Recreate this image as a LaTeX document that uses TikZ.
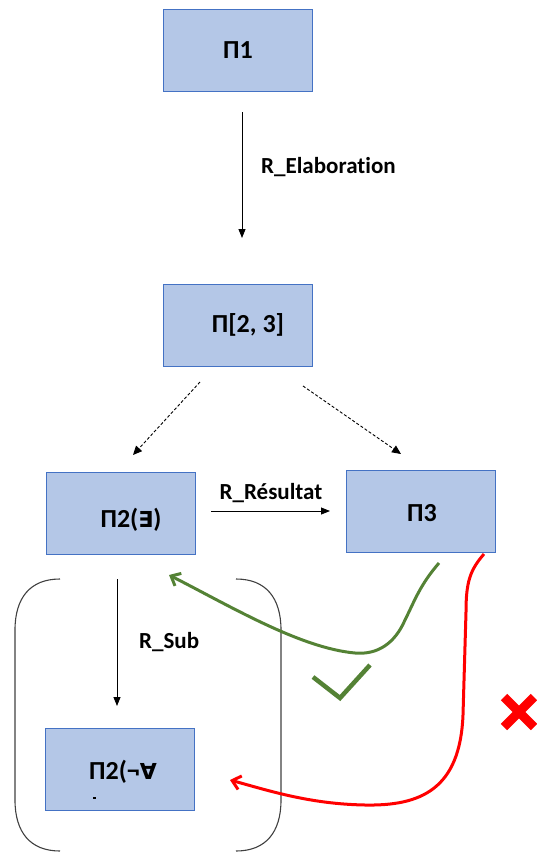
\documentclass[tikz,border=0pt]{standalone}
\usepackage{fontspec}
\setmainfont{Carlito}[Ligatures=NoCommon]
\newfontfamily\symfont{DejaVu Sans}
\usetikzlibrary{arrows.meta}
\definecolor{boxfill}{HTML}{B4C7E7}
\definecolor{boxline}{HTML}{4472C4}
\definecolor{okgreen}{HTML}{548235}
\definecolor{badred}{HTML}{FF0000}
\begin{document}
\begin{tikzpicture}[x=1pt,y=-1pt,
  box/.style={draw=boxline,fill=boxfill,line width=1pt,minimum width=149pt,minimum height=82pt,inner sep=0pt},
  boxtext/.style={font=\bfseries\fontsize{26}{30}\selectfont,inner sep=0pt},
  rellabel/.style={font=\bfseries\fontsize{23}{26}\selectfont,inner sep=0pt},
  rel/.style={line width=0.8pt,-{Triangle[length=9pt,width=7pt]}},
  dashrel/.style={line width=0.9pt,dash pattern=on 3pt off 2pt,-{Triangle[length=9pt,width=8pt]}},
  paren/.style={draw=black!75,line width=1.1pt},
  feedback/.style={line width=3pt,-{Straight Barb[length=8pt,width=14pt,line width=3pt]}}]
\useasboundingbox (0,0) rectangle (537,852);

% process boxes
\node[box] (p1)  at (238,50)  {};
\node[box] (p23) at (238,325) {};
\node[box] (p2e) at (121,513) {};
\node[box] (p3)  at (421,511) {};
\node[box] (p2a) at (120,769) {};

\node[boxtext] at (p1.center) {Π1};
\node[boxtext] at ([xshift=10pt]p23.center) {Π[2, 3]};
\node[boxtext] at ([xshift=10pt,yshift=-7pt]p2e.center) {Π2({\symfont\bfseries\fontsize{22}{26}\selectfont ∃})};
\node[boxtext] at ([xshift=3pt,yshift=-3pt]p2a.center) {Π2(¬{\symfont\bfseries\fontsize{22}{26}\selectfont ∀}};
\node[boxtext] at ([xshift=1pt,yshift=-2pt]p3.center) {Π3};
% small stray mark under the text
\fill ([xshift=-27pt,yshift=-28pt]p2a.center) rectangle +(3,2.2);

% relations
\coordinate (e0) at (242,112);
\coordinate (e1) at (242,238);
\draw[rel] (e0) -- (e1);
\node[rellabel,anchor=west] at (261,167) {R\_Elaboration};

\coordinate (d0) at (200,382);
\coordinate (d1) at (133,455);
\coordinate (d2) at (303,386);
\coordinate (d3) at (401,454);
\draw[dashrel] (d0) -- (d1);
\draw[dashrel] (d2) -- (d3);

\coordinate (r0) at (211,511);
\coordinate (r1) at (330,511);
\draw[rel] (r0) -- (r1);
\node[rellabel,anchor=south] at (271,503) {R\_Résultat};

\coordinate (s0) at (117,579);
\coordinate (s1) at (117,706);
\draw[rel] (s0) -- (s1);
\node[rellabel,anchor=west] at (139,642) {R\_Sub};

% bracket round the sub-process
\draw[paren] (60,579) .. controls (30,579) and (15,598) .. (15,630) -- (15,800)
  .. controls (15,832) and (30,851) .. (60,851);
\draw[paren] (236,579) .. controls (266,579) and (281,598) .. (281,630) -- (281,800)
  .. controls (281,832) and (266,851) .. (236,851);

% accepted feedback
\coordinate (g0) at (439,563);
\coordinate (g1) at (169,575);
\draw[feedback,okgreen] (g0) .. controls (420,585) and (415,600) .. (405,620)
  .. controls (395,643) and (378,655) .. (355,653)
  .. controls (300,648) and (230,606) .. (g1);
\draw[okgreen,line width=4.5pt] (313,677) -- (340,698) -- (370,665);

% rejected feedback
\coordinate (k0) at (484,554);
\coordinate (k1) at (230,780);
\draw[feedback,badred] (k0) .. controls (470,570) and (466,582) .. (466,612) -- (463,715)
  .. controls (460,790) and (420,806) .. (365,805)
  .. controls (310,804) and (270,791) .. (k1);
\draw[badred,line width=9pt] (504,697) -- (534,727) (504,727) -- (534,697);
\end{tikzpicture}
\end{document}
